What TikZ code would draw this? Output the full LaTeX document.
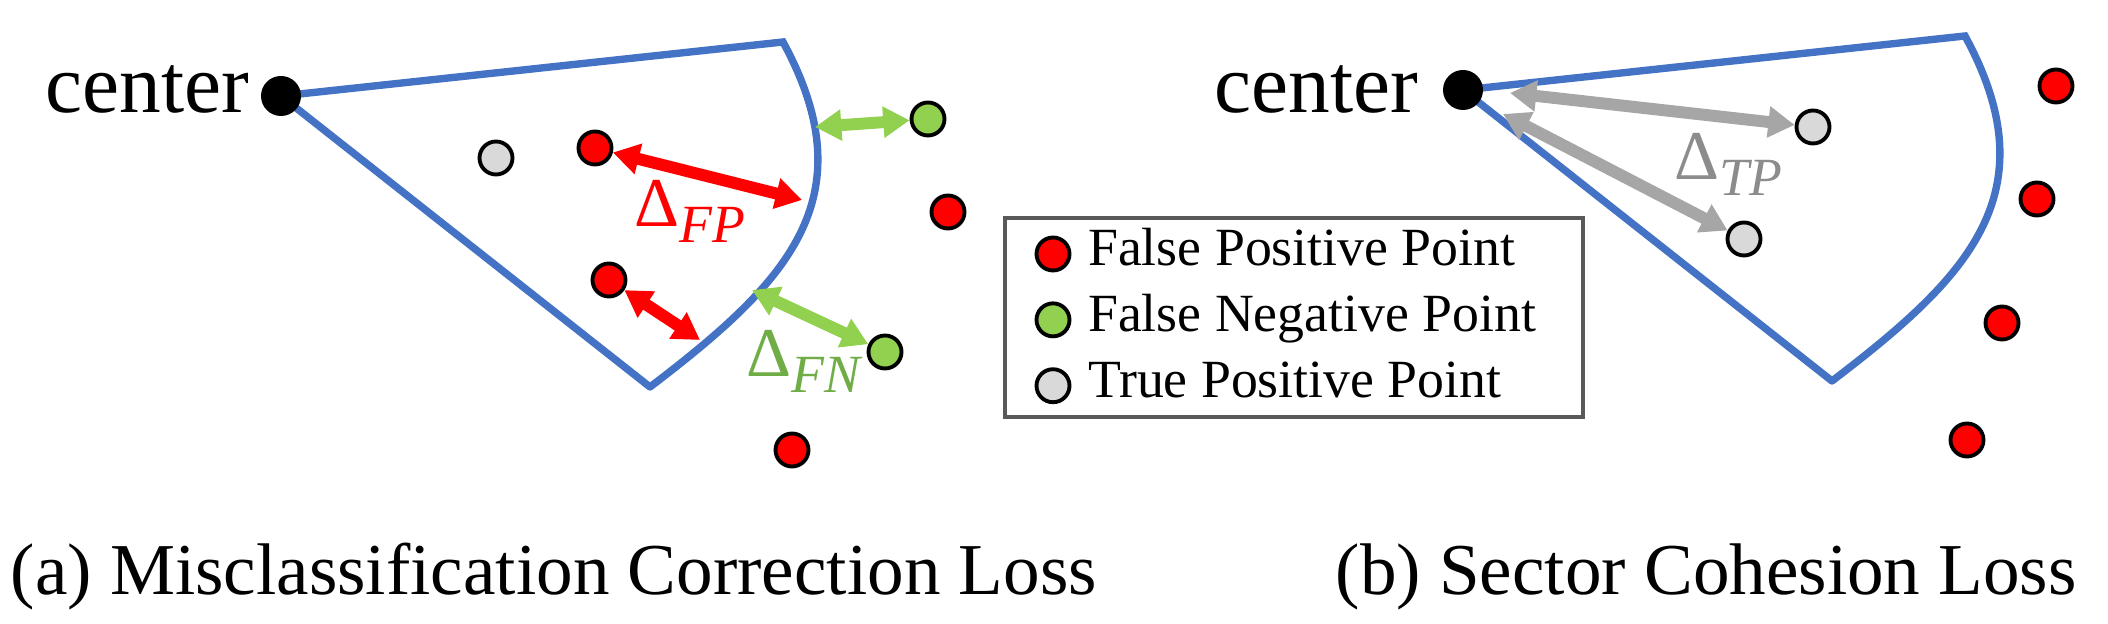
\documentclass[tikz,border=0pt]{standalone}
\usepackage{fontspec}
\setmainfont{Liberation Serif}
\usetikzlibrary{arrows.meta,positioning}

\definecolor{secblue}{HTML}{4472C4}
\definecolor{fpred}{HTML}{FF0000}
\definecolor{fngreen}{HTML}{92D050}
\definecolor{fnlabel}{HTML}{70AD47}
\definecolor{tpfill}{HTML}{D9D9D9}
\definecolor{tparrow}{HTML}{A6A6A6}
\definecolor{tplabel}{HTML}{8C8C8C}
\definecolor{legborder}{HTML}{595959}

\newcommand{\deltasub}[1]{Δ\raisebox{-4.3pt}{\fontsize{15.3}{18}\selectfont\itshape #1}}

\begin{document}
\begin{tikzpicture}[
  x=0.1mm, y=-0.1mm,
  sectorline/.style={draw=secblue, line width=2.1pt, line join=miter, line cap=round},
  hub/.style={circle, fill=black, minimum size=4mm, inner sep=0pt},
  sample/.style={circle, draw=black, line width=1.1pt, fill=#1, minimum size=3.3mm, inner sep=0pt},
  gaparrow/.style={{Triangle[length=7.5pt,width=8.5pt]}-{Triangle[length=7.5pt,width=8.5pt]}, line width=3.4pt, draw=#1},
  deltalabel/.style={font=\fontsize{19.9}{24}\selectfont, text=#1, anchor=base west, inner sep=0pt},
  hubtext/.style={font=\fontsize{23.7}{28}\selectfont, anchor=base east, inner sep=0pt},
  legtext/.style={font=\fontsize{15.3}{18}\selectfont, inner sep=0pt, text height=0.68em, text depth=0pt},
  subcaption/.style={font=\fontsize{20.8}{25}\selectfont, anchor=base west, inner sep=0pt},
  legframe/.style={draw=legborder, line width=1.1pt},
  sector/.pic={
    \draw[sectorline] (369,291) -- (0,0) -- (502,-54) .. controls (588,104) and (504,188) .. (369,291);
  }
]
  \useasboundingbox (0,0) rectangle (2108,624);

  % (a) misclassification correction
  \pic at (281,96) {sector};
  \node[hub] (cA) at (281,96) {};
  \node[hubtext] (labA) at (250,113) {center};

  \node[sample=tpfill] (tpA1) at (496,158) {};
  \node[sample=fpred] (fpA1) at (595,148) {};
  \node[sample=fpred] (fpA2) at (609,280) {};
  \node[sample=fpred] (fpA3) at (948,212) {};
  \node[sample=fpred] (fpA4) at (792,450) {};
  \node[sample=fngreen] (fnA1) at (928,119) {};
  \node[sample=fngreen] (fnA2) at (885,352) {};

  \coordinate (arcFP1) at (802,200);
  \coordinate (arcFP2) at (700,340);
  \coordinate (arcFN1) at (815,127);
  \coordinate (arcFN2) at (752,290);

  \draw[gaparrow=fpred] (fpA1) -- (arcFP1);
  \draw[gaparrow=fpred] (fpA2) -- (arcFP2);
  \draw[gaparrow=fngreen] (arcFN1) -- (fnA1);
  \draw[gaparrow=fngreen] (arcFN2) -- (fnA2);

  \node[deltalabel=fpred] (dFP) at (634,227) {\deltasub{FP}};
  \node[deltalabel=fnlabel] (dFN) at (746,377) {\deltasub{FN}};

  % legend
  \draw[legframe] (1005,218) rectangle (1583,417);
  \node[sample=fpred] (legfp) at (1053,254) {};
  \node[sample=fngreen, below=2.9mm of legfp] (legfn) {};
  \node[sample=tpfill, below=2.9mm of legfn] (legtp) {};
  \node[legtext, right=1.6mm of legfp] {False Positive Point};
  \node[legtext, right=1.6mm of legfn] {False Negative Point};
  \node[legtext, right=1.6mm of legtp] {True Positive Point};

  % (b) sector cohesion
  \pic at (1463,90) {sector};
  \node[hub] (cB) at (1463,90) {};
  \node[hubtext] (labB) at (1419,113) {center};

  \node[sample=tpfill] (tpB1) at (1813,127) {};
  \node[sample=tpfill] (tpB2) at (1744,239) {};
  \node[sample=fpred] (fpB1) at (2056,86) {};
  \node[sample=fpred] (fpB2) at (2037,199) {};
  \node[sample=fpred] (fpB3) at (2002,323) {};
  \node[sample=fpred] (fpB4) at (1967,440) {};

  \coordinate (nearB1) at (1510,93);
  \coordinate (nearB2) at (1503,114);
  \draw[gaparrow=tparrow] (nearB1) -- (tpB1);
  \draw[gaparrow=tparrow] (nearB2) -- (tpB2);

  \node[deltalabel=tplabel] (dTP) at (1674,180) {\deltasub{TP}};

  % captions
  \node[subcaption] (capA) at (10,595) {(a) Misclassification Correction Loss};
  \node[subcaption] (capB) at (1335,595) {(b) Sector Cohesion Loss};
\end{tikzpicture}
\end{document}
